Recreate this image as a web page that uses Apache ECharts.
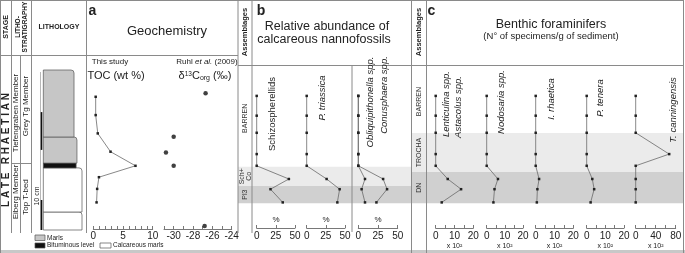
<!DOCTYPE html>
<html>
<head>
<meta charset="utf-8">
<title>Late Rhaetian - geochemistry, nannofossils, foraminifers</title>
<script src="https://cdn.jsdelivr.net/npm/echarts@6/dist/echarts.min.js"></script>
<style>
html, body { margin: 0; padding: 0; background: #fff; }
#chart { width: 685px; height: 253px; }
</style>
</head>
<body>
<div id="chart"></div>
<script>
// heights are cm above the base of the logged section
var H_MAX = 53.33;
var sampleHeights = [44.7, 38.1, 32.4, 25.3, 21.4, 17.0, 13.6, 9.2];

// a - geochemistry
var tocHeights = [44.4, 38.3, 32.2, 26.1, 21.4, 17.6, 13.7, 9.2];
var tocValues = [0.4, 0.4, 0.75, 2.9, 7.1, 0.95, 0.65, 0.55];
var tocTicks = [0, 5, 10];
var d13cHeights = [45.6, 31.1, 25.8, 21.4, 1.3];
var d13cValues = [-26.7, -30.0, -30.8, -30.0, -26.8];

// b - nannofossils (%)
var schizo = [0, 0, 0, 0, 0, 42, 18, 34];
var triassica = [0, 0, 0, 0, 0, 26, 43, 40];
var obliqui = [0, 0, 0, 0, 0, 8.5, 4.2, 8.5];
var conusph = [0, 0, 0, 0, 0, 31.5, 36.5, 23];

// c - benthic foraminifers (x 10^2 per g)
var lenticulina = [0, 0, 0, 0, 0, 6.4, 13.5, 3.2];
var nodosaria = [0, 0, 0, 0, 0, 6.2, 4.3, 3.7];
var rhaetica = [0, 0, 0, 0, 0, 1.8, 0.9, 0.6];
var tenera = [0, 0, 0, 0, 0, 3, 4, 2.1];
var canningensis = [0, 0, 0, 67, 0, 0, 0, 0];

// lithology: [base, top, type, relative width]
var beds = [
  [0, 6, 'calc', 1.0],
  [6, 20.7, 'calc', 1.0],
  [20.7, 22.3, 'bit', 0.86],
  [22.3, 31, 'marl', 0.88],
  [31, H_MAX, 'marl', 0.81]
];
var darkMarks = [[0, 10], [26.7, 39.3]];

// assemblages: [label, top, base, shade]
var assemB = [['BARREN', H_MAX, 21.1, 0], ['Sch+\nCo', 21.1, 14.7, 1], ['Pl3', 14.7, 8.9, 2]];
var assemC = [['BARREN', H_MAX, 32.3, 0], ['TROCHA', 32.3, 19.3, 1], ['DN', 19.3, 8.9, 2]];

var FONT = '"Liberation Sans", Arial, sans-serif';
var shades = ['rgba(0,0,0,0)', '#ebebeb', '#d0d0d0'];
var lithFill = {calc: '#ffffff', marl: '#c6c6c6', bit: '#111111'};

var grids = [], xAxes = [], yAxes = [], series = [];

function addGrid(left, right, xopt) {
  var i = grids.length;
  grids.push({left: left, width: right - left, top: 70, height: 160, outerBoundsMode: 'none'});
  yAxes.push({type: 'value', gridIndex: i, min: 0, max: H_MAX, show: false});
  xAxes.push(Object.assign({type: 'value', gridIndex: i, show: false, splitLine: {show: false}}, xopt || {}));
  return i;
}

function axisOpt(min, max, tick, lab, off, margin) {
  return {
    show: true, min: min, max: max, interval: tick, position: 'bottom', offset: off,
    axisLine: {show: true, lineStyle: {color: '#555', width: 0.8}},
    axisTick: {show: true, inside: true, length: 3, lineStyle: {color: '#555', width: 0.8}},
    axisLabel: {
      show: true, color: '#222', fontSize: 10, fontFamily: FONT, margin: margin,
      showMinLabel: true, showMaxLabel: true, hideOverlap: false,
      formatter: function (v) { return Math.abs(v % lab) < 1e-6 ? String(v) : ''; }
    },
    splitLine: {show: false}
  };
}

function zip(vals, hs) { return vals.map(function (v, k) { return [v, hs[k]]; }); }

function profile(i, vals, hs) {
  series.push({
    type: 'line', xAxisIndex: i, yAxisIndex: i, data: zip(vals, hs), z: 5,
    symbol: 'rect', symbolSize: 2.5, showAllSymbol: true,
    lineStyle: {color: '#6a6a6a', width: 0.8}, itemStyle: {color: '#222'},
    silent: true, animation: false
  });
}

// assemblage bands (drawn first, under everything)
function bandSeries(left, right, list) {
  var i = addGrid(left, right, {min: 0, max: 1});
  series.push({
    type: 'custom', xAxisIndex: i, yAxisIndex: i, z: 1, silent: true, animation: false,
    data: list.map(function (d) { return [0, d[1], d[2]]; }),
    encode: {x: 0, y: [1, 2]},
    renderItem: function (params, api) {
      var d = list[params.dataIndex];
      var cs = params.coordSys;
      var y0 = api.coord([0, d[1]])[1], y1 = api.coord([0, d[2]])[1];
      return {type: 'group', children: [
        {type: 'rect', shape: {x: cs.x, y: y0, width: cs.width, height: y1 - y0}, style: {fill: shades[d[3]]}},
        {type: 'text', x: cs.x + 7.5, y: (y0 + y1) / 2, rotation: Math.PI / 2,
          style: {text: d[0], fontSize: 7, fontFamily: FONT, fill: '#333', align: 'center', verticalAlign: 'middle', lineHeight: 7}}
      ]};
    }
  });
}
bandSeries(238, 411.5, assemB);
bandSeries(411.5, 683.5, assemC);

// lithology column
var gl = addGrid(40, 82, {min: 0, max: 1});
series.push({
  type: 'custom', xAxisIndex: gl, yAxisIndex: gl, z: 3, silent: true, animation: false,
  data: beds.map(function (b) { return [b[3], b[0], b[1]]; }),
  encode: {x: 0, y: [1, 2]},
  renderItem: function (params, api) {
    var b = beds[params.dataIndex];
    var p0 = api.coord([0.079, b[1]]), p1 = api.coord([b[3], b[0]]);
    return {type: 'rect',
      shape: {x: p0[0], y: p0[1], width: p1[0] - p0[0], height: p1[1] - p0[1], r: b[2] === 'bit' ? 0 : [0, 3, 0, 0]},
      style: {fill: lithFill[b[2]], stroke: '#555', lineWidth: 0.7}};
  }
});
series.push({
  type: 'custom', xAxisIndex: gl, yAxisIndex: gl, z: 3, silent: true, animation: false,
  data: darkMarks.map(function (m) { return [0.03, m[0], m[1]]; }),
  encode: {x: 0, y: [1, 2]},
  renderItem: function (params, api) {
    var m = darkMarks[params.dataIndex];
    var p0 = api.coord([0.008, m[1]]), p1 = api.coord([0.055, m[0]]);
    return {type: 'rect', shape: {x: p0[0], y: p0[1], width: p1[0] - p0[0], height: p1[1] - p0[1]}, style: {fill: '#111'}};
  }
});

// a  (TOC: unit ticks, tick labels drawn at 0 / 5 / 10 by a label series on the same axis)
var gToc = addGrid(93.3, 152.7, axisOpt(0, 10, 1, 5, -1, 2));
xAxes[gToc].axisLabel.show = false;
profile(gToc, tocValues, tocHeights);
series.push({
  type: 'custom', xAxisIndex: gToc, yAxisIndex: gToc, z: 6, silent: true, animation: false, clip: false,
  data: tocTicks.map(function (t) { return [t, 0]; }),
  encode: {x: 0, y: 1},
  renderItem: function (params, api) {
    var p = api.coord([tocTicks[params.dataIndex], 0]);
    return {type: 'text', x: p[0], y: p[1] + 1,
      style: {text: String(tocTicks[params.dataIndex]), fontSize: 10, fontFamily: FONT, fill: '#222', align: 'center', verticalAlign: 'top'}};
  }
});
var gD = addGrid(164, 231.7, axisOpt(-31, -24, 1, 2, -1, 2));
series.push({type: 'scatter', xAxisIndex: gD, yAxisIndex: gD, data: zip(d13cValues, d13cHeights), z: 5,
  symbol: 'circle', symbolSize: 4.5, itemStyle: {color: '#111'}, silent: true, animation: false});

// b
var gS = addGrid(256.7, 295, axisOpt(0, 50, 25, 25, -2, 3));
profile(gS, schizo, sampleHeights);
var gT = addGrid(306.7, 345, axisOpt(0, 50, 25, 25, -2, 3));
profile(gT, triassica, sampleHeights);
var gO = addGrid(358.3, 397.7, axisOpt(0, 50, 25, 25, -2, 3));
profile(gO, obliqui, sampleHeights);
profile(gO, conusph, sampleHeights);

// c
var gL = addGrid(435.7, 473.3, axisOpt(0, 20, 5, 10, -2, 3));
profile(gL, lenticulina, sampleHeights);
var gN = addGrid(486.7, 523, axisOpt(0, 20, 5, 10, -2, 3));
profile(gN, nodosaria, sampleHeights);
var gR = addGrid(535.7, 573.3, axisOpt(0, 20, 5, 10, -2, 3));
profile(gR, rhaetica, sampleHeights);
var gP = addGrid(586.7, 624, axisOpt(0, 20, 5, 10, -2, 3));
profile(gP, tenera, sampleHeights);
var gC = addGrid(635.7, 675.7, axisOpt(0, 80, 20, 40, -2, 3));
profile(gC, canningensis, sampleHeights);

// frame, headings and labels
function ln(x1, y1, x2, y2, c, w) {
  return {type: 'line', z: 100, silent: true, shape: {x1: x1, y1: y1, x2: x2, y2: y2}, style: {stroke: c || '#8a8a8a', lineWidth: w || 1}};
}
function txt(x, y, s, size, o) {
  o = o || {};
  return {type: 'text', z: 100, silent: true, x: x, y: y, rotation: o.rot ? Math.PI / 2 : 0,
    style: {text: s, fontSize: size, fontFamily: FONT, fontWeight: o.bold ? 'bold' : 'normal',
      fontStyle: o.italic ? 'italic' : 'normal', fill: o.color || '#222',
      align: o.align || 'center', verticalAlign: 'middle', lineHeight: o.lh, rich: o.rich}};
}
function box(x, y, w, h, fill) {
  return {type: 'rect', z: 100, silent: true, shape: {x: x, y: y, width: w, height: h}, style: {fill: fill, stroke: '#555', lineWidth: 0.7}};
}

var graphics = [
  {type: 'rect', z: 99, silent: true, shape: {x: 0, y: 250, width: 685, height: 3}, style: {fill: '#c8c8c8'}},
  ln(0, 0.5, 684, 0.5), ln(0.5, 0, 0.5, 253), ln(683.5, 0, 683.5, 253),
  ln(11.5, 0, 11.5, 233), ln(31.5, 0, 31.5, 233), ln(20.5, 55, 20.5, 233), ln(11.5, 163.5, 31.5, 163.5),
  ln(86.5, 0, 86.5, 233), ln(0, 55.5, 238, 55.5),
  ln(238, 0, 238, 233), ln(252, 0, 252, 233), ln(238, 65.5, 684, 65.5),
  ln(352, 65, 352, 232), ln(411.5, 0, 411.5, 253), ln(426.5, 0, 426.5, 253),
  ln(40.5, 72, 40.5, 230, '#999', 0.7),

  txt(6, 27, 'STAGE', 7, {bold: true, rot: true}),
  txt(21.5, 27, 'LITHO-\nSTRATIGRAPHY', 6.5, {bold: true, rot: true, lh: 7.5}),
  txt(59, 27, 'LITHOLOGY', 7, {bold: true}),
  txt(6, 150, 'L A T E   R H A E T I A N', 10, {bold: true, rot: true}),
  txt(16, 113, 'Tiefengraben Member', 8, {rot: true}),
  txt(26, 106, 'Grey Tg Member', 8, {rot: true}),
  txt(16, 192, 'Eiberg Member', 8, {rot: true}),
  txt(26, 197, 'Top T-bed', 8, {rot: true}),
  txt(37, 196, '10 cm', 7, {rot: true}),

  box(35, 235, 10, 5.5, '#c6c6c6'), txt(47, 238, 'Marls', 6.5, {align: 'left'}),
  box(35, 243, 10, 5, '#111'), txt(47, 245.5, 'Bituminous level', 6.5, {align: 'left'}),
  box(100, 243, 11, 5, '#fff'), txt(113, 245.5, 'Calcareous marls', 6.5, {align: 'left'}),

  txt(92.5, 11, 'a', 14, {bold: true}),
  txt(167, 31, 'Geochemistry', 13),
  txt(110, 62, 'This study', 8),
  txt(207, 62, '{n|Ruhl }{i|et al.}{n| (2009)}', 8, {rich: {
    n: {fontSize: 8, fontFamily: FONT, fill: '#222'},
    i: {fontSize: 8, fontFamily: FONT, fontStyle: 'italic', fill: '#222'}}}),
  txt(116, 76, 'TOC (wt %)', 11),
  txt(205, 76, '{n|δ}{s|13}{n|C}{b|org}{n| (‰)}', 11, {rich: {
    n: {fontSize: 11, fontFamily: FONT, fill: '#222'},
    s: {fontSize: 6.5, fontFamily: FONT, fill: '#222', verticalAlign: 'top'},
    b: {fontSize: 7, fontFamily: FONT, fill: '#222', verticalAlign: 'bottom'}}}),

  txt(261, 11, 'b', 14, {bold: true}),
  txt(327, 27, 'Relative abundance of', 12.5),
  txt(324, 40, 'calcareous nannofossils', 12.5),
  txt(245, 32, 'Assemblages', 7.5, {bold: true, rot: true}),
  txt(419, 32, 'Assemblages', 7.5, {bold: true, rot: true}),
  txt(431.5, 11, 'c', 14, {bold: true}),
  txt(551, 25, 'Benthic foraminifers', 12.5),
  txt(551, 36, '(N° of specimens/g of sediment)', 9.5),

  txt(272, 114, 'Schizospherellids', 9.5, {rot: true}),
  txt(322, 98, 'P. triassica', 9.5, {rot: true, italic: true}),
  txt(370, 102, 'Obliquipithonella spp.', 9.5, {rot: true, italic: true}),
  txt(384, 95, 'Conusphaera spp.', 9.5, {rot: true, italic: true}),
  txt(446, 104, 'Lenticulina spp.', 9.5, {rot: true, italic: true}),
  txt(458, 107, 'Astacolus spp.', 9.5, {rot: true, italic: true}),
  txt(501, 102, 'Nodosaria spp.', 9.5, {rot: true, italic: true}),
  txt(551, 99, 'I. rhaetica', 9.5, {rot: true, italic: true}),
  txt(600, 98, 'P. tenera', 9.5, {rot: true, italic: true}),
  txt(673, 110, 'T. canningensis', 9.5, {rot: true, italic: true}),

  txt(276, 220, '%', 8), txt(326, 220, '%', 8), txt(378, 220, '%', 8),
  txt(454.5, 246.5, 'x 10²', 7), txt(504.8, 246.5, 'x 10²', 7), txt(554.5, 246.5, 'x 10²', 7),
  txt(605.3, 246.5, 'x 10²', 7), txt(655.7, 246.5, 'x 10²', 7)
];

var chart = echarts.init(document.getElementById('chart'));
chart.setOption({
  animation: false,
  backgroundColor: '#ffffff',
  grid: grids,
  xAxis: xAxes,
  yAxis: yAxes,
  series: series,
  graphic: {elements: graphics}
});
</script>
</body>
</html>
